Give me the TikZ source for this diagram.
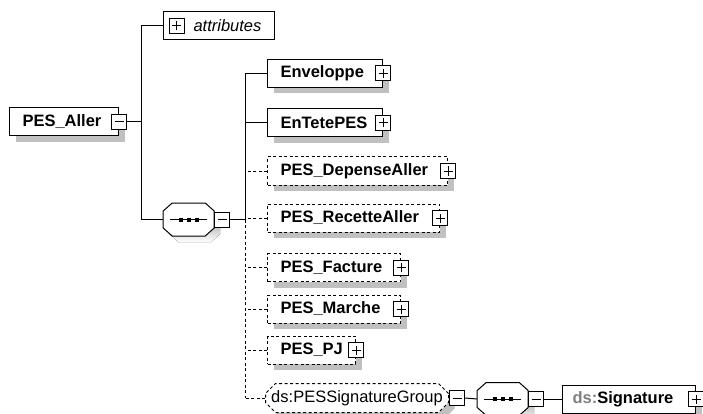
\documentclass[tikz,border=0pt]{standalone}
\usepackage{fontspec}
\setmainfont{Liberation Sans}
\usetikzlibrary{shapes.misc,shadows,calc}
\definecolor{shade}{RGB}{192,192,192}
\definecolor{prefix}{RGB}{128,128,128}

\tikzset{
  txt/.style={font=\fontsize{16.5}{19}\selectfont},
  txtb/.style={font=\fontsize{16.5}{19}\selectfont\bfseries},
  wire/.style={line width=1pt},
  dashline/.style={dash pattern=on 3pt off 2.5pt},
  shadowed/.style={general shadow={fill=shade, shadow xshift=6pt, shadow yshift=-6pt}},
  elem/.style={txtb, draw, fill=white, line width=1pt, shadowed, minimum height=28pt,
    inner xsep=13pt, inner ysep=0pt, align=left, anchor=west},
  optelem/.style={elem, dashline},
  pmbox/.style={draw, fill=white, line width=1pt, minimum width=15pt, minimum height=15pt, inner sep=0pt},
  minusbox/.style={pmbox, path picture={
      \draw[line width=1pt] ([xshift=3pt]path picture bounding box.west) -- ([xshift=-3pt]path picture bounding box.east);}},
  plusbox/.style={pmbox, path picture={
      \draw[line width=1pt] ([xshift=3pt]path picture bounding box.west) -- ([xshift=-3pt]path picture bounding box.east)
        ([yshift=3pt]path picture bounding box.south) -- ([yshift=-3pt]path picture bounding box.north);}},
  % sequence compositor: an invisible frame, its octagon drawn by the pic below
  seqframe/.style={minimum width=51pt, minimum height=33pt, inner sep=0pt, anchor=west},
  seqsym/.pic={
    \fill[shade] (-16.5+6,-16.5+6) -- (16.5+6,-16.5+6) -- (25.5+6,-8.5+6) -- (25.5+6,8.5+6)
       -- (16.5+6,16.5+6) -- (-16.5+6,16.5+6) -- (-25.5+6,8.5+6) -- (-25.5+6,-8.5+6) -- cycle;
    \draw[line width=1pt, fill=white] (-16.5,-16.5) -- (16.5,-16.5) -- (25.5,-8.5) -- (25.5,8.5)
       -- (16.5,16.5) -- (-16.5,16.5) -- (-25.5,8.5) -- (-25.5,-8.5) -- cycle;
    \draw[line width=1pt] (-18.5,0) -- (18.5,0);
    \foreach \d in {-8,0,8} \fill (\d-2,-2) rectangle (\d+2,2);
  },
  groupbox/.style={txt, draw, fill=white, line width=1pt, shadowed, dashline, shape=chamfered rectangle,
    chamfered rectangle xsep=5pt, chamfered rectangle ysep=5pt,
    minimum width=183pt, minimum height=29pt, inner sep=0pt, anchor=west},
}

\begin{document}
\begin{tikzpicture}[x=1pt, y=-1pt]
  \useasboundingbox (0,0) rectangle (703,414);

  % bus lines
  \coordinate (busA) at (141,0);
  \coordinate (busB) at (245,0);

  % root element
  \node[elem, text width=83pt] (aller) at (9,122) {PES\_Aller};
  \node[minusbox] (aller-pm) at (aller.east) {};

  % attributes
  \node[txt, font=\fontsize{16.5}{19}\selectfont\itshape, draw, fill=white, line width=1pt,
        minimum height=28pt, inner xsep=0pt, inner ysep=0pt, text width=111pt, align=left, anchor=west]
        (attr) at (163,26) {\hspace*{30pt}attributes};
  \node[plusbox] (attr-pm) at ([xshift=13.5pt]attr.west) {};

  % sequence compositor
  \node[seqframe] (seq1) at (163,219.5) {};
  \pic at (seq1.center) {seqsym};
  \node[minusbox, anchor=west] (seq1-pm) at (seq1.east) {};

  % children
  \node[elem, text width=89pt] (env) at (267,73.5) {Enveloppe};
  \node[plusbox] (env-pm) at (env.east) {};
  \node[elem, text width=89pt] (tete) at (267,123) {EnTetePES};
  \node[plusbox] (tete-pm) at (tete.east) {};
  \node[optelem, text width=154pt] (dep) at (267,171) {PES\_DepenseAller};
  \node[plusbox] (dep-pm) at (dep.east) {};
  \node[optelem, text width=146pt] (rec) at (267,218) {PES\_RecetteAller};
  \node[plusbox] (rec-pm) at (rec.east) {};
  \node[optelem, text width=107pt] (fac) at (267,267.5) {PES\_Facture};
  \node[plusbox] (fac-pm) at (fac.east) {};
  \node[optelem, text width=107pt] (mar) at (267,309) {PES\_Marche};
  \node[plusbox] (mar-pm) at (mar.east) {};
  \node[optelem, text width=62pt] (pj) at (267,350) {PES\_PJ};
  \node[plusbox] (pj-pm) at (pj.east) {};

  % signature group
  \node[groupbox] (grp) at (265,398) {ds:PESSignatureGroup};
  \node[minusbox, anchor=west] (grp-pm) at (grp.east) {};
  \node[seqframe] (seq2) at (477,399) {};
  \pic at (seq2.center) {seqsym};
  \node[minusbox, anchor=west] (seq2-pm) at (seq2.east) {};
  \node[elem, inner xsep=10pt, text width=113pt] (sig) at (562,399)
       {\textcolor{prefix}{ds:}Signature};
  \node[plusbox] (sig-pm) at (sig.east) {};

  % connectors, root level
  \draw[wire] (aller-pm.east) -- (aller-pm.east -| busA);
  \draw[wire] (attr.west) -- (attr.west -| busA) -- (seq1.west -| busA) -- (seq1.west);

  % connectors, sequence level
  \draw[wire] (seq1-pm.east) -- (seq1-pm.east -| busB);
  \draw[wire] (env.west) -- (env.west -| busB) -- (seq1-pm.east -| busB);
  \draw[wire] (tete.west) -- (tete.west -| busB);
  \draw[wire, dashline] (seq1-pm.east -| busB) -- (grp.west -| busB);
  \foreach \n in {dep,rec,fac,mar,pj,grp}
    \draw[wire, dashline] (\n.west) -- (\n.west -| busB);

  % group content
  \draw[wire] (grp-pm.east) -- (seq2.west);
  \draw[wire] (seq2-pm.east) -- (sig.west);
\end{tikzpicture}
\end{document}
